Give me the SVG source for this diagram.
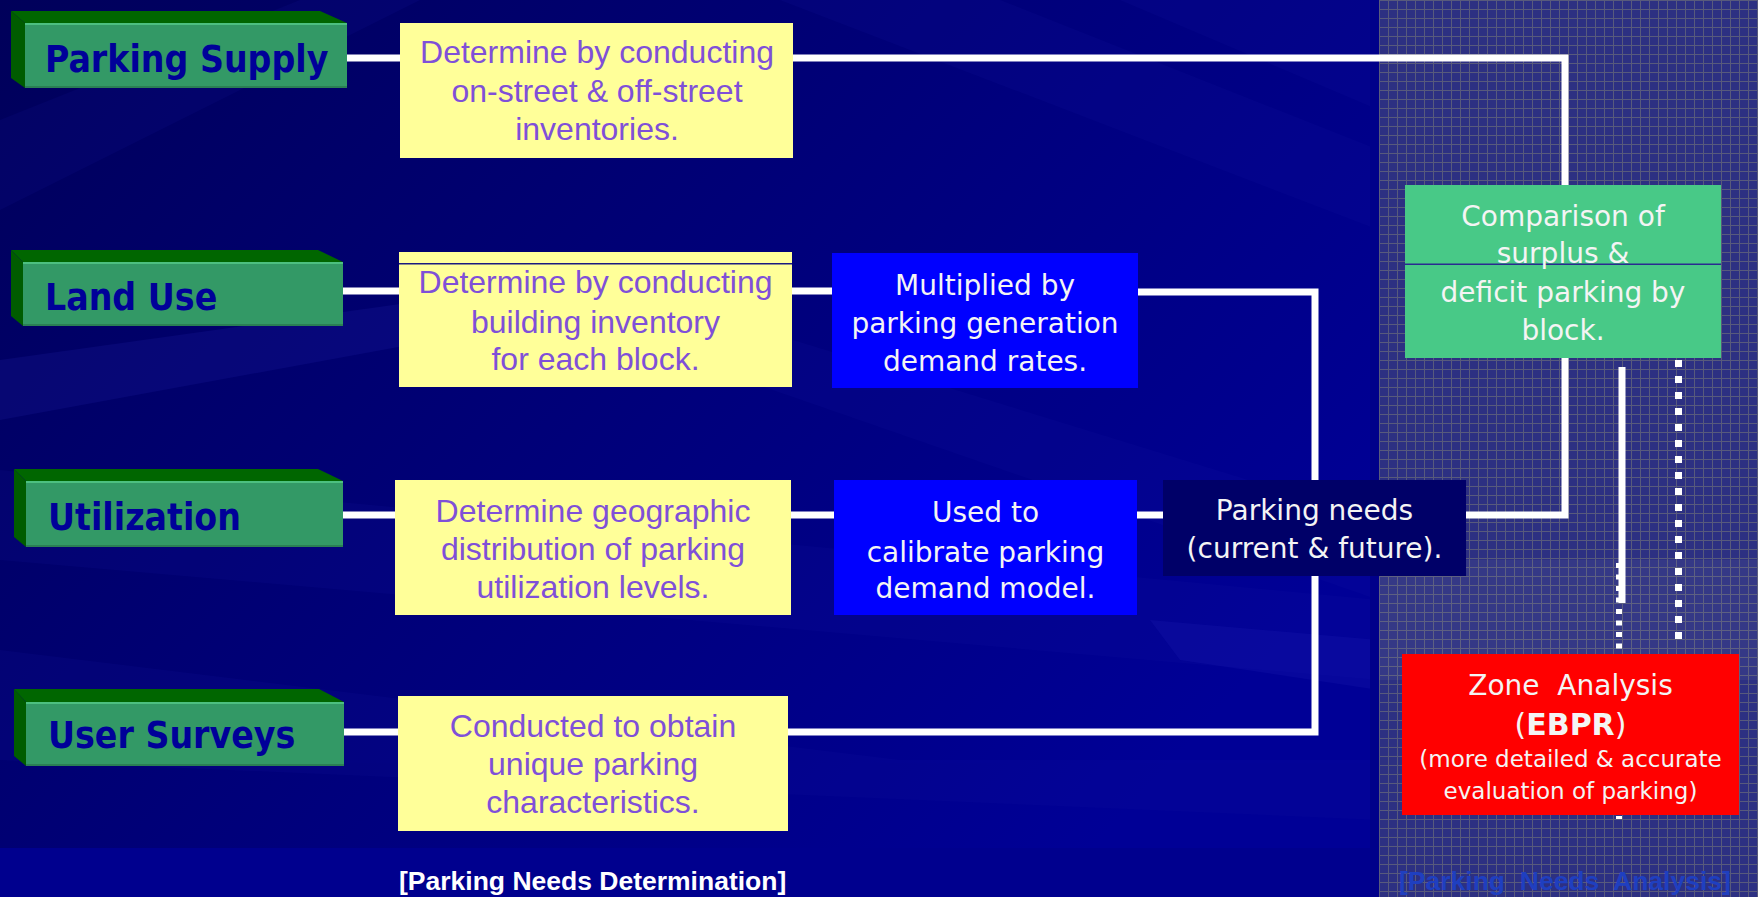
<svg xmlns="http://www.w3.org/2000/svg" width="1758" height="897" viewBox="0 0 1758 897">
<defs>
  <linearGradient id="bg" x1="0" y1="0" x2="1" y2="0.6">
    <stop offset="0" stop-color="#00005a"/>
    <stop offset="0.5" stop-color="#000078"/>
    <stop offset="1" stop-color="#000096"/>
  </linearGradient>
  <pattern id="grid" width="9" height="9" patternUnits="userSpaceOnUse" x="1379" y="0">
    <rect width="9" height="9" fill="#2d3082"/>
    <path d="M0 0.5 H9 M0.5 0 V9" stroke="#585a7c" stroke-width="1" fill="none"/>
  </pattern>
  <style>
    .front{fill:#339966}
    .top{fill:#006600}
    .side{fill:#005c00}
    .hl{fill:#4cc080}
    .sh{fill:#2a7f54}
    .gt{font-family:"DejaVu Sans Condensed","DejaVu Sans",sans-serif;font-stretch:condensed;font-weight:bold;font-size:37px;fill:#000099}
    .yb{fill:#ffff99}
    .yt{font-family:"Liberation Sans",Arial,sans-serif;font-size:32px;fill:#7f50d8;text-anchor:middle}
    .bb{fill:#0000ff}
    .wt{font-family:"DejaVu Sans",Verdana,sans-serif;font-size:28px;fill:#f4f4f4;text-anchor:middle}
    .st{font-size:23px}
    .ln{fill:none;stroke:#ffffff;stroke-width:7;stroke-linejoin:miter}
    .cap{font-family:"Liberation Sans",Arial,sans-serif;font-weight:bold;font-size:26.5px}
  </style>
</defs>

<!-- background -->
<rect x="0" y="0" width="1379" height="897" fill="url(#bg)"/>
<g fill="#1a1aa8" opacity="0.12">
  <polygon points="780,0 1000,0 1379,150 1379,230"/>
  <polygon points="0,120 300,0 420,0 0,210"/>
  <polygon points="500,250 1379,520 1379,600 600,330"/>
  <polygon points="0,470 1379,600 1379,680 0,560"/>
  <polygon points="1120,0 1379,0 1379,110"/>
  <polygon points="0,650 900,760 1379,760 1379,820 0,760"/>
</g>
<g fill="#3030c0" opacity="0.15">
  <polygon points="1150,620 1379,640 1379,690 1180,660"/>
  <polygon points="0,360 500,290 600,310 0,420"/>
</g>
<rect x="0" y="848" width="1379" height="49" fill="#00008e"/>
<rect x="1370" y="0" width="9" height="897" fill="#00008a"/>
<rect x="1379" y="0" width="379" height="897" fill="url(#grid)"/>
<rect x="1379" y="560" width="379" height="120" fill="#ffffff" opacity="0.04"/>

<!-- connectors -->
<g id="connectors">
  <line class="ln" x1="347" y1="58" x2="400" y2="58"/>
  <polyline class="ln" points="793,58 1565,58 1565,185"/>
  <line class="ln" x1="343" y1="291" x2="399" y2="291"/>
  <line class="ln" x1="792" y1="291" x2="832" y2="291"/>
  <polyline class="ln" points="1138,292 1315,292 1315,480"/>
  <line class="ln" x1="343" y1="515" x2="395" y2="515"/>
  <line class="ln" x1="791" y1="515" x2="834" y2="515"/>
  <line class="ln" x1="1137" y1="515" x2="1163" y2="515"/>
  <line class="ln" x1="344" y1="732" x2="398" y2="732"/>
  <polyline class="ln" points="788,732 1315,732 1315,576"/>
  <polyline class="ln" points="1466,515 1565,515 1565,358"/>
  <line x1="1619" y1="563" x2="1619" y2="819" stroke="#ffffff" stroke-width="6" stroke-dasharray="5 6.5"/>
  <line x1="1622" y1="367" x2="1622" y2="603" stroke="#ffffff" stroke-width="7"/>
  <line x1="1678.5" y1="360" x2="1678.5" y2="647" stroke="#ffffff" stroke-width="7" stroke-dasharray="7 9"/>
</g>

<!-- green source boxes -->
<g id="parking-supply">
  <polygon class="top" points="11,11 320,11 347,23 25,23"/>
  <polygon class="side" points="11,11 25,23 25,88 11,78"/>
  <rect class="front" x="25" y="23" width="322" height="65"/>
  <rect class="hl" x="25" y="23" width="322" height="2"/>
  <rect class="sh" x="25" y="86" width="322" height="2"/>
  <text class="gt" x="45" y="72">Parking Supply</text>
</g>
<g id="land-use">
  <polygon class="top" points="11,250 318,250 343,262 23,262"/>
  <polygon class="side" points="11,250 23,262 23,326 11,316"/>
  <rect class="front" x="23" y="262" width="320" height="64"/>
  <rect class="hl" x="23" y="262" width="320" height="2"/>
  <rect class="sh" x="23" y="324" width="320" height="2"/>
  <text class="gt" x="45" y="310">Land Use</text>
</g>
<g id="utilization">
  <polygon class="top" points="14,469 318,469 343,481 26,481"/>
  <polygon class="side" points="14,469 26,481 26,547 14,537"/>
  <rect class="front" x="26" y="481" width="317" height="66"/>
  <rect class="hl" x="26" y="481" width="317" height="2"/>
  <rect class="sh" x="26" y="545" width="317" height="2"/>
  <text class="gt" x="48" y="530">Utilization</text>
</g>
<g id="user-surveys">
  <polygon class="top" points="14,689 319,689 344,702 26,702"/>
  <polygon class="side" points="14,689 26,702 26,766 14,756"/>
  <rect class="front" x="26" y="702" width="318" height="64"/>
  <rect class="hl" x="26" y="702" width="318" height="2"/>
  <rect class="sh" x="26" y="764" width="318" height="2"/>
  <text class="gt" x="48" y="748">User Surveys</text>
</g>

<!-- yellow boxes -->
<g id="supply-inventory">
  <rect class="yb" x="400" y="23" width="393" height="135"/>
  <text class="yt" x="597" y="63">Determine by conducting</text>
  <text class="yt" x="597" y="102">on-street &amp; off-street</text>
  <text class="yt" x="597" y="140">inventories.</text>
</g>
<g id="building-inventory">
  <rect class="yb" x="399" y="252" width="393" height="135"/>
  <rect x="399" y="263" width="393" height="1.5" fill="#1a1a80"/>
  <text class="yt" x="595.5" y="293">Determine by conducting</text>
  <text class="yt" x="595.5" y="333">building inventory</text>
  <text class="yt" x="595.5" y="370">for each block.</text>
</g>
<g id="geographic-distribution">
  <rect class="yb" x="395" y="480" width="396" height="135"/>
  <text class="yt" x="593" y="522">Determine geographic</text>
  <text class="yt" x="593" y="560">distribution of parking</text>
  <text class="yt" x="593" y="598">utilization levels.</text>
</g>
<g id="survey-characteristics">
  <rect class="yb" x="398" y="696" width="390" height="135"/>
  <text class="yt" x="593" y="737">Conducted to obtain</text>
  <text class="yt" x="593" y="775">unique parking</text>
  <text class="yt" x="593" y="813">characteristics.</text>
</g>

<!-- blue boxes -->
<g id="demand-rates">
  <rect class="bb" x="832" y="253" width="306" height="135"/>
  <text class="wt" x="985" y="295">Multiplied by</text>
  <text class="wt" x="985" y="333">parking generation</text>
  <text class="wt" x="985" y="371">demand rates.</text>
</g>
<g id="calibrate-model">
  <rect class="bb" x="834" y="480" width="303" height="135"/>
  <text class="wt" x="985.5" y="522">Used to</text>
  <text class="wt" x="985.5" y="562">calibrate parking</text>
  <text class="wt" x="985.5" y="598">demand model.</text>
</g>

<!-- parking needs -->
<g id="parking-needs">
  <rect x="1163" y="480" width="303" height="96" fill="#000068"/>
  <text class="wt" x="1314.5" y="520">Parking needs</text>
  <text class="wt" x="1314.5" y="558">(current &amp; future).</text>
</g>

<!-- comparison -->
<g id="comparison">
  <rect x="1405" y="185" width="316" height="173" fill="#48c987"/>
  <rect x="1405" y="263.5" width="316" height="1.5" fill="#2a2a90"/>
  <text class="wt" x="1563" y="226">Comparison of</text>
  <text class="wt" x="1563" y="263">surplus &amp;</text>
  <text class="wt" x="1563" y="302">deficit parking by</text>
  <text class="wt" x="1563" y="340">block.</text>
</g>

<!-- zone analysis -->
<g id="zone-analysis">
  <rect x="1402" y="654" width="337" height="161" fill="#ff0000"/>
  <text class="wt" x="1570.5" y="695" style="white-space:pre">Zone  Analysis</text>
  <text class="wt" x="1570.5" y="735" style="font-size:30px">(<tspan font-weight="bold">EBPR</tspan>)</text>
  <text class="wt st" x="1570.5" y="767">(more detailed &amp; accurate</text>
  <text class="wt st" x="1570.5" y="799">evaluation of parking)</text>
</g>

<!-- captions -->
<text class="cap" x="399" y="890" fill="#ffffff">[Parking Needs Determination]</text>
<text class="cap" x="1399" y="890" fill="#1f3fc0" style="white-space:pre">[Parking  Needs  Analysis]</text>
</svg>
